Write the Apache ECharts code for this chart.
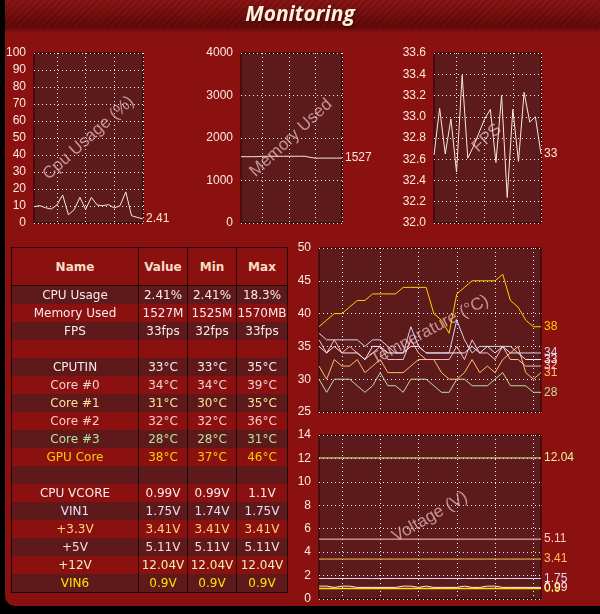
<!DOCTYPE html>
<html><head><meta charset="utf-8">
<script src="https://cdn.jsdelivr.net/npm/echarts@6/dist/echarts.min.js"></script>
<style>
html,body{margin:0;padding:0;background:#000;width:600px;height:614px;overflow:hidden;}
#frame{position:absolute;left:5px;top:0;width:595px;height:606px;background:#8b1111;border-bottom-left-radius:10px;overflow:hidden;}
#titlebar{position:absolute;left:0;top:0;width:100%;height:27px;background:repeating-linear-gradient(135deg, rgba(0,0,0,0.14) 0 2px, rgba(0,0,0,0) 2px 5px), linear-gradient(#8c1515,#640a0a);}
#shadow{position:absolute;left:0;top:27px;width:100%;height:6px;background:linear-gradient(rgba(50,0,0,0.5),rgba(50,0,0,0));}
#chart{position:absolute;left:0;top:0;width:600px;height:614px;}
#tbl{position:absolute;left:11px;top:247px;border-collapse:collapse;table-layout:fixed;width:277px;border:1px solid #220404;font-family:'DejaVu Sans',Verdana,sans-serif;font-size:12px;}
#tbl th{height:37px;padding:0;background:#8b1111;color:#f6dcc4;font-weight:bold;border:1px solid #220404;font-size:12px;}
#tbl td{height:18px;padding:0;text-align:center;border-left:1px solid #220404;border-right:1px solid #220404;line-height:18px;white-space:nowrap;overflow:hidden;}
#tbl tr.d td{background:#5e1a1a;}
#tbl tr.r td{background:#8b1111;}
</style></head>
<body>
<div id="frame"><div id="titlebar"></div><div id="shadow"></div></div>
<div id="chart"></div>
<table id="tbl">
<colgroup><col style="width:127px"><col style="width:49px"><col style="width:49px"><col style="width:51px"></colgroup>
<thead><tr><th>Name</th><th>Value</th><th>Min</th><th>Max</th></tr></thead>
<tbody id="tb"></tbody>
</table>
<script>
// ---------- data ----------
const smallSamples = ['s1','s2','s3','s4','s5','s6','s7','s8','s9','s10','s11','s12','s13','s14','s15','s16','s17','s18','s19','s20'];
const bigSamples = ['t1','t2','t3','t4','t5','t6','t7','t8','t9','t10','t11','t12','t13','t14','t15','t16','t17','t18','t19','t20','t21','t22','t23','t24','t25','t26','t27','t28','t29','t30'];

const cpuValues = [9.6,10.2,9.0,8.2,10.6,16.5,4.9,7.8,15.1,8.0,15.1,10.6,10.2,10.8,8.8,10.2,18.3,4.3,3.3,2.41];
const memValues = [1560,1560,1560,1560,1570,1570,1570,1570,1570,1570,1570,1570,1570,1545,1525,1527,1527,1527,1527,1527];
const fpsValues = [32.64,33.08,32.65,32.98,32.48,33.39,32.61,32.72,32.85,32.98,33.07,32.57,33.2,32.24,33.07,32.58,33.23,32.95,33.0,32.65];

const tempCPUTIN = [35,34,35,34,34,34,33,35,35,34,34,34,35,35,34,34,34,34,34,34,35,34,35,34,35,34,34,33,33,33];
const tempCore0  = [37,36,36,36,36,36,35,36,36,35,34,34,38,35,34,34,34,34,39,36,34,35,35,35,35,35,34,34,34,34];
const tempCore1  = [32,30,33,32,32,33,31,32,33,31,31,31,32,33,33,33,31,30,30,31,33,31,32,31,33,34,35,31,30,31];
const tempCore2  = [36,34,36,34,35,34,33,34,35,33,33,33,36,34,33,33,33,33,35,33,36,34,34,33,35,33,33,32,32,32];
const tempCore3  = [30,28,30,30,30,29,28,29,31,29,29,28,30,30,30,29,28,28,30,30,29,29,29,30,31,29,29,29,28,28];
const tempGPU    = [38,39,40,40,41,42,42,43,43,43,43,44,44,44,44,40,39,37,43,44,45,45,45,45,46,42,41,39,38,38];

const voltVCORE = [1.1,1.1,0.99,1.1,1.1,0.99,0.99,0.99,0.99,0.99,0.99,1.1,1.1,0.99,1.1,0.99,0.99,0.99,0.99,1.1,0.99,0.99,1.1,1.1,0.99,0.99,0.99,0.99,0.99,0.99];
const voltVIN1  = [1.75,1.75,1.75,1.75,1.75,1.75,1.75,1.74,1.75,1.75,1.75,1.75,1.75,1.75,1.75,1.75,1.75,1.75,1.75,1.75,1.75,1.75,1.75,1.75,1.75,1.75,1.75,1.75,1.75,1.75];
const volt33    = [3.41,3.41,3.41,3.41,3.41,3.41,3.41,3.41,3.41,3.41,3.41,3.41,3.41,3.41,3.41,3.41,3.41,3.41,3.41,3.41,3.41,3.41,3.41,3.41,3.41,3.41,3.41,3.41,3.41,3.41];
const volt5     = [5.11,5.11,5.11,5.11,5.11,5.11,5.11,5.11,5.11,5.11,5.11,5.11,5.11,5.11,5.11,5.11,5.11,5.11,5.11,5.11,5.11,5.11,5.11,5.11,5.11,5.11,5.11,5.11,5.11,5.11];
const volt12    = [12.04,12.04,12.04,12.04,12.04,12.04,12.04,12.04,12.04,12.04,12.04,12.04,12.04,12.04,12.04,12.04,12.04,12.04,12.04,12.04,12.04,12.04,12.04,12.04,12.04,12.04,12.04,12.04,12.04,12.04];
const voltVIN6  = [0.9,0.9,0.9,0.9,0.9,0.9,0.9,0.9,0.9,0.9,0.9,0.9,0.9,0.9,0.9,0.9,0.9,0.9,0.9,0.9,0.9,0.9,0.9,0.9,0.9,0.9,0.9,0.9,0.9,0.9];

const tableNames  = ['CPU Usage','Memory Used','FPS','','CPUTIN','Core #0','Core #1','Core #2','Core #3','GPU Core','','CPU VCORE','VIN1','+3.3V','+5V','+12V','VIN6'];
const tableValues = ['2.41%','1527M','33fps','','33°C','34°C','31°C','32°C','28°C','38°C','','0.99V','1.75V','3.41V','5.11V','12.04V','0.9V'];
const tableMins   = ['2.41%','1525M','32fps','','33°C','34°C','30°C','32°C','28°C','37°C','','0.99V','1.74V','3.41V','5.11V','12.04V','0.9V'];
const tableMaxs   = ['18.3%','1570MB','33fps','','35°C','39°C','35°C','36°C','31°C','46°C','','1.1V','1.75V','3.41V','5.11V','12.04V','0.9V'];
const tableColors = ['#f8eaea','#f8eaea','#f8eaea','#f8eaea','#f8eaea','#f0d0d0','#ffe09a','#ffc4c4','#b8e0a0','#ffcc00','#f8eaea','#f8eaea','#e2def4','#ffd27a','#ffd8d8','#f0f0b0','#ffe000'];

// ---------- table ----------
const tb = document.getElementById('tb');
tableNames.forEach((n, i) => {
  const tr = document.createElement('tr');
  tr.className = i % 2 === 0 ? 'd' : 'r';
  [n, tableValues[i], tableMins[i], tableMaxs[i]].forEach(t => {
    const td = document.createElement('td');
    td.textContent = t;
    td.style.color = tableColors[i];
    tr.appendChild(td);
  });
  tb.appendChild(tr);
});

// ---------- chart ----------
const chart = echarts.init(document.getElementById('chart'), null, {renderer: 'canvas'});
const FONT = "'Liberation Sans', Arial, sans-serif";
const labelColor = '#fbe9dc';
const dotted = {show: true, lineStyle: {color: '#ffffff', type: [1, 3], width: 1, opacity: 0.95}};

const gridBoxes = [
  {left: 34, top: 53, width: 109, height: 170},
  {left: 241, top: 53, width: 101, height: 170},
  {left: 434, top: 53, width: 107, height: 170},
  {left: 319, top: 248, width: 222, height: 164},
  {left: 319, top: 435, width: 222, height: 164}
];
const grid = gridBoxes.map(g => Object.assign({show: true, backgroundColor: '#5d1a1a', borderColor: '#1c0404', borderWidth: 1}, g));

function xAx(gi, cats, mod, rem) {
  return {type: 'category', gridIndex: gi, data: cats, boundaryGap: false,
    axisLine: {show: false}, axisTick: {show: false}, axisLabel: {show: false},
    splitLine: Object.assign({}, dotted, {interval: (idx) => idx % mod === rem})};
}
function yAx(gi, min, max, interval, fmt) {
  return {type: 'value', gridIndex: gi, min, max, interval,
    axisLine: {show: false}, axisTick: {show: false},
    axisLabel: {color: labelColor, fontSize: 12, fontFamily: FONT, margin: 8, formatter: fmt || (v => String(v))},
    splitLine: dotted};
}
function line(gi, data, color, fmt, width) {
  return {type: 'line', xAxisIndex: gi, yAxisIndex: gi, data, symbol: 'none', silent: true,
    lineStyle: {color, width: width || 1}, itemStyle: {color},
    endLabel: {show: true, color, fontSize: 12, fontFamily: FONT, distance: 3,
      formatter: p => fmt(p.value)}};
}
const asIs = v => String(v);

function mark(cx, cy, deg, text) {
  return {type: 'text', x: cx, y: cy, rotation: deg * Math.PI / 180, z: 1, silent: true,
    style: {text, fill: 'rgba(240,196,196,0.7)', font: "17px 'Liberation Sans', Arial, sans-serif",
      align: 'center', verticalAlign: 'middle', textAlign: 'center', textVerticalAlign: 'middle'}};
}

chart.setOption({
  animation: false,
  backgroundColor: 'transparent',
  title: {text: 'Monitoring', left: 'center', top: 0,
    textStyle: {color: '#fff1dc', fontSize: 21, fontWeight: 'bold', fontStyle: 'italic',
      fontFamily: "'Open Sans', 'DejaVu Sans', sans-serif", textShadowColor: 'rgba(0,0,0,0.5)', textShadowBlur: 2, textShadowOffsetX: 1, textShadowOffsetY: 1}},
  grid,
  xAxis: [
    xAx(0, smallSamples, 5, 4), xAx(1, smallSamples, 5, 4), xAx(2, smallSamples, 5, 4),
    xAx(3, bigSamples, 5, 3), xAx(4, bigSamples, 5, 3)
  ],
  yAxis: [
    yAx(0, 0, 100, 10), yAx(1, 0, 4000, 1000), yAx(2, 32, 33.6, 0.2, v => v.toFixed(1)),
    yAx(3, 25, 50, 5), yAx(4, 0, 14, 2)
  ],
  graphic: [
    mark(88.5, 138, 42, 'Cpu Usage (%)'),
    mark(291, 138, 43, 'Memory Used'),
    mark(487, 138, 43, 'FPS'),
    mark(430, 330, 28, 'Temperature (°C)'),
    mark(430, 517, 30, 'Voltage (V)')
  ],
  series: [
    line(0, cpuValues, '#f8e8d8', asIs),
    line(1, memValues, '#f8e8d8', asIs),
    line(2, fpsValues, '#f8e8d8', v => String(Math.round(v))),
    line(3, tempCore3, '#c0dca0', asIs),
    line(3, tempCore1, '#ffc070', asIs),
    line(3, tempCore2, '#ffbcbc', asIs),
    line(3, tempCPUTIN, '#f6eeee', asIs),
    line(3, tempCore0, '#d4d0f4', asIs),
    line(3, tempGPU, '#ffd000', asIs),
    line(4, volt12, '#e8f0a0', asIs),
    line(4, volt5, '#ffc8c8', asIs),
    line(4, volt33, '#ffc060', asIs),
    line(4, voltVIN1, '#dcdcf6', asIs),
    line(4, voltVIN6, '#ffe000', asIs, 1.5),
    line(4, voltVCORE, '#f8f0f0', asIs)
  ]
});
</script>
</body></html>
